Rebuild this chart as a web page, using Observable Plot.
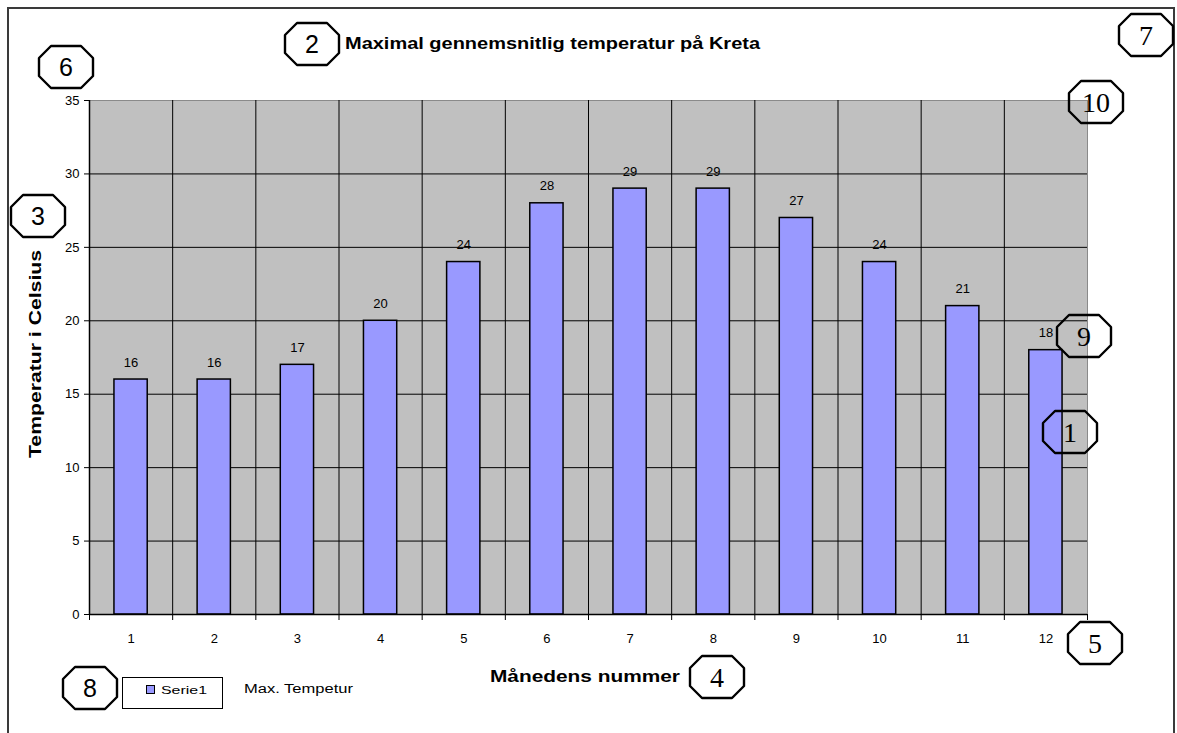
<!DOCTYPE html>
<html>
<head>
<meta charset="utf-8">
<script src="https://cdn.jsdelivr.net/npm/d3@7"></script>
<script src="https://cdn.jsdelivr.net/npm/@observablehq/plot@0.6"></script>
<style>
  html, body { margin: 0; padding: 0; background: white; }
  svg { display: block; }
</style>
</head>
<body>
<div id="chart"></div>
<script>
const months = [1, 2, 3, 4, 5, 6, 7, 8, 9, 10, 11, 12];
const temps = [16, 16, 17, 20, 24, 28, 29, 29, 27, 24, 21, 18];
const yTicks = [0, 5, 10, 15, 20, 25, 30, 35];
const titleText = "Maximal gennemsnitlig temperatur på Kreta";
const yLabelText = "Temperatur i Celsius";
const xLabelText = "Månedens nummer";
const seriesName = "Serie1";
const legendNote = "Max. Tempetur";
const calloutLabels = ["1", "2", "3", "4", "5", "6", "7", "8", "9", "10"];

const data = months.map((m, i) => ({month: m, temp: temps[i]}));
const boundaries = [0.5, ...months.map(m => m + 0.5)];
const innerBoundaries = boundaries.slice(1, -1);

const barFill = "#9999ff";
const plotBg = "#c0c0c0";
const sans = "Arial, 'Liberation Sans', sans-serif";

const chart = Plot.plot({
  width: 1177,
  height: 733,
  marginLeft: 89,
  marginRight: 90,
  marginTop: 100,
  marginBottom: 119,
  x: {domain: [0.5, 12.5], axis: null},
  y: {domain: [0, 35], axis: null},
  style: {fontFamily: sans, fontSize: "13px", background: "white", color: "black"},
  marks: [
    Plot.frame({fill: plotBg, stroke: "#8a8a8a"}),
    Plot.ruleY(yTicks.filter(v => v > 0 && v < 35), {stroke: "black", strokeWidth: 1}),
    Plot.ruleX(innerBoundaries, {stroke: "black", strokeWidth: 1}),
    Plot.rectY(data, {x1: d => d.month - 0.2, x2: d => d.month + 0.2, y: "temp", fill: barFill, stroke: "black", strokeWidth: 1.5}),
    Plot.text(data, {x: "month", y: "temp", text: d => String(d.temp), dy: -17, fontSize: 13}),
    Plot.ruleY([0], {stroke: "black", strokeWidth: 1.5}),
    Plot.ruleX([0.5], {stroke: "black", strokeWidth: 1.5}),
    Plot.axisY({ticks: yTicks, tickSize: 5, tickPadding: 5, label: null, fontSize: 13}),
    Plot.axisX({ticks: boundaries, tickSize: 6, tickFormat: () => "", label: null}),
    Plot.axisX({ticks: months, tickSize: 0, tickPadding: 19, label: null, fontSize: 13})
  ]
});

document.getElementById("chart").appendChild(chart);

const svg = d3.select(chart);
const g = svg.append("g").attr("text-anchor", "start");

// outer border
g.append("rect").attr("x", 8).attr("y", 8).attr("width", 1166).attr("height", 740)
  .attr("fill", "none").attr("stroke", "#3a3a3a").attr("stroke-width", 2);

// title
g.append("text").text(titleText)
  .attr("x", 345).attr("y", 49)
  .attr("text-anchor", "start")
  .attr("font-family", sans)
  .attr("font-weight", "bold").attr("font-size", 17)
  .attr("textLength", 415).attr("lengthAdjust", "spacingAndGlyphs")
  .attr("fill", "black");

// y label
g.append("text").text(yLabelText)
  .attr("transform", "translate(41,458) rotate(-90)")
  .attr("text-anchor", "start")
  .attr("font-family", sans)
  .attr("font-weight", "bold").attr("font-size", 16)
  .attr("textLength", 208).attr("lengthAdjust", "spacingAndGlyphs")
  .attr("fill", "black");

// x label
g.append("text").text(xLabelText)
  .attr("x", 490).attr("y", 682)
  .attr("text-anchor", "start")
  .attr("font-family", sans)
  .attr("font-weight", "bold").attr("font-size", 17)
  .attr("textLength", 190).attr("lengthAdjust", "spacingAndGlyphs")
  .attr("fill", "black");

// legend
g.append("rect").attr("x", 122.5).attr("y", 677.5).attr("width", 100).attr("height", 31)
  .attr("fill", "white").attr("stroke", "black").attr("stroke-width", 1);
g.append("rect").attr("x", 146.5).attr("y", 685.5).attr("width", 8).attr("height", 8)
  .attr("fill", barFill).attr("stroke", "black").attr("stroke-width", 1);
g.append("text").text(seriesName)
  .attr("x", 161).attr("y", 694)
  .attr("text-anchor", "start")
  .attr("font-family", sans).attr("font-size", 11)
  .attr("textLength", 46).attr("lengthAdjust", "spacingAndGlyphs");
g.append("text").text(legendNote)
  .attr("x", 244).attr("y", 693)
  .attr("text-anchor", "start")
  .attr("font-family", sans).attr("font-size", 12)
  .attr("textLength", 109).attr("lengthAdjust", "spacingAndGlyphs");

// numbered callouts
const calloutPos = {
  "1": [1070, 432, true],
  "2": [312, 44, false],
  "3": [38, 216, false],
  "4": [717, 677, true],
  "5": [1095, 643, true],
  "6": [66, 67, false],
  "7": [1146, 35, true],
  "8": [90, 688, false],
  "9": [1084, 336, true],
  "10": [1096, 102, true]
};
const w = 54, h = 42, c = 12;
calloutLabels.forEach(lbl => {
  const [cx, cy, serif] = calloutPos[lbl];
  const x0 = cx - w / 2, x1 = cx + w / 2, y0 = cy - h / 2, y1 = cy + h / 2;
  const pts = [
    [x0 + c, y0], [x1 - c, y0], [x1, y0 + c], [x1, y1 - c],
    [x1 - c, y1], [x0 + c, y1], [x0, y1 - c], [x0, y0 + c]
  ];
  g.append("polygon").attr("points", pts.map(p => p.join(",")).join(" "))
    .attr("fill", "none").attr("stroke", "black").attr("stroke-width", 2.4)
    .attr("stroke-linejoin", "round");
  g.append("text").text(lbl)
    .attr("x", cx).attr("y", cy + (serif ? 10 : 9))
    .attr("text-anchor", "middle")
    .attr("font-family", serif ? "'Liberation Serif', 'DejaVu Serif', serif" : sans)
    .attr("font-size", serif ? 28 : 25)
    .attr("fill", "black");
});
</script>
</body>
</html>
